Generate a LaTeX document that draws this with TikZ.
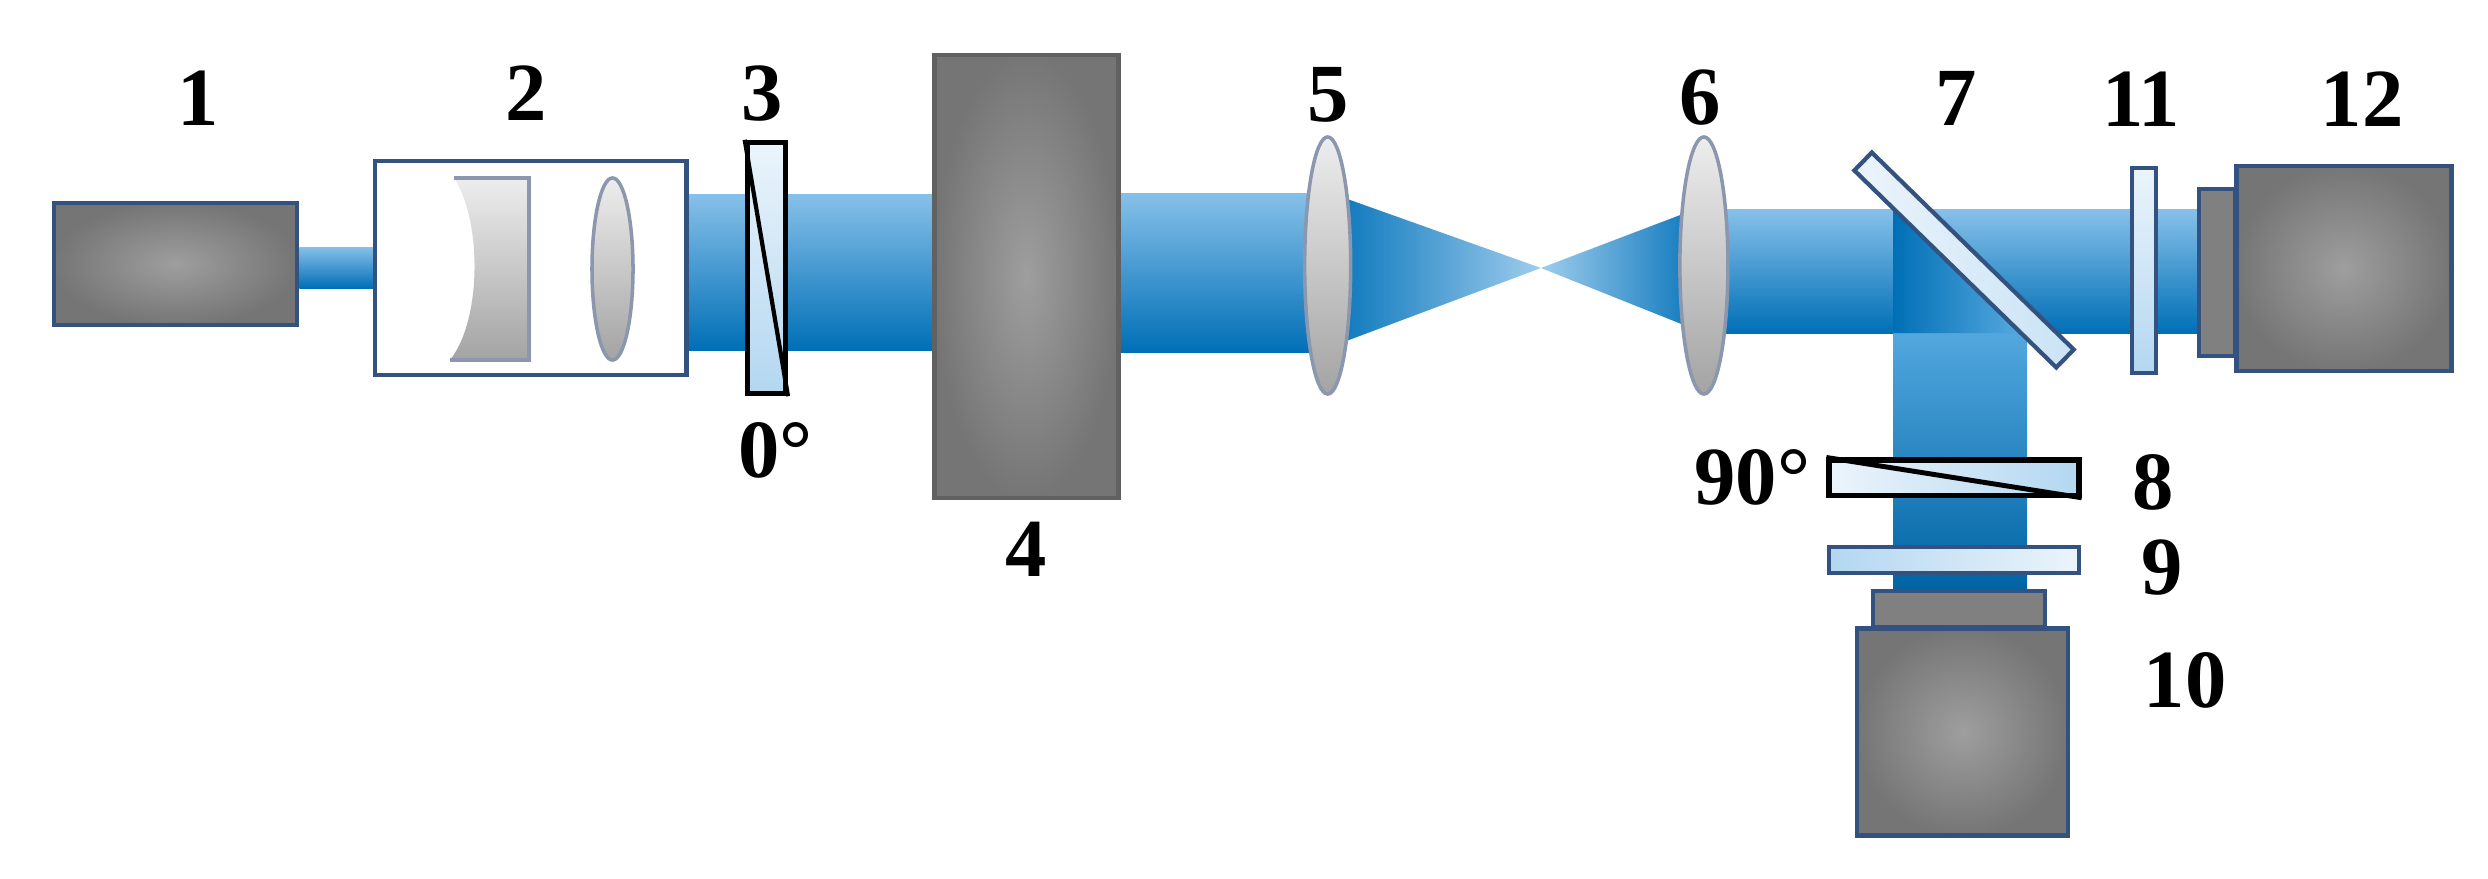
\documentclass[tikz,border=0pt]{standalone}
\usepackage{fontspec}
\setmainfont{Liberation Serif}
\usetikzlibrary{positioning, shapes.geometric, backgrounds}
\definecolor{frameblue}{HTML}{34527F}
\definecolor{lensedge}{HTML}{8A97AE}
\definecolor{beamtop}{HTML}{86C0E9}
\definecolor{beammid}{HTML}{3498D9}
\definecolor{beamlow}{HTML}{006FB6}
\definecolor{pale}{HTML}{EBF4FB}
\definecolor{glass}{HTML}{B3D7F1}
\tikzset{
        camera/.style={rectangle, draw=frameblue, line width=1.3pt, inner sep=0pt, inner color=black!38, outer color=black!54},
        neck/.style={rectangle, draw=frameblue, line width=1.3pt, inner sep=0pt, fill=black!50},
        lens/.style={ellipse, draw=lensedge, line width=1pt, inner sep=0pt, top color=black!7, bottom color=black!36},
        wedge/.style={rectangle, draw=black, line width=1.5pt, inner sep=0pt},
        plate/.style={rectangle, draw=frameblue, line width=1.2pt, inner sep=0pt},
        tag/.style={font=\bfseries\fontsize{23.5}{24}\selectfont, inner sep=0pt},
        beam/.style={top color=beamtop, middle color=beammid, bottom color=beamlow}
}
\begin{document}
\begin{tikzpicture}[x=0.01cm, y=-0.01cm, on grid]
        \useasboundingbox (0,0) rectangle (2488,879);

        \node[camera, minimum width=2.43cm, minimum height=1.22cm] (1) at (175.5,264) {};
        \node[rectangle, draw=frameblue, line width=1.3pt, inner sep=0pt, fill=white, minimum width=3.11cm, minimum height=2.14cm] (2) [below right=0.04cm and 3.55cm of 1] {};
        \node[wedge, top color=pale, bottom color=glass, minimum width=0.38cm, minimum height=2.51cm] (3) [right=2.355cm of 2] {};
        \node[camera, draw=black!62, minimum width=1.84cm, minimum height=4.43cm] (4) [below right=0.085cm and 2.6cm of 3] {};
        \node[lens, minimum width=0.46cm, minimum height=2.57cm] (5) [above right=0.11cm and 3.01cm of 4] {};
        \node[lens, minimum width=0.48cm, minimum height=2.57cm] (6) [right=3.76cm of 5] {};
        \node[plate, rotate=-44.3, left color=pale, right color=glass!70!white, minimum width=2.82cm, minimum height=0.25cm] (7) [above right=0.055cm and 2.6cm of 6] {};
        \node[wedge, left color=pale, right color=glass, minimum width=2.5cm, minimum height=0.35cm] (8) [below left=2.175cm and 0.1cm of 7] {};
        \node[plate, left color=glass, right color=pale, minimum width=2.5cm, minimum height=0.26cm] (9) [below=0.82cm of 8] {};
        \node[neck, minimum width=1.72cm, minimum height=0.36cm] (10a) [below right=0.495cm and 0.05cm of 9] {};
        \node[camera, minimum width=2.11cm, minimum height=2.07cm] (10) [below right=1.225cm and 0.035cm of 10a] {};
        \node[plate, top color=pale, bottom color=glass, minimum width=0.24cm, minimum height=2.05cm] (11) [below right=0.105cm and 1.795cm of 7] {};
        \node[neck, minimum width=0.36cm, minimum height=1.67cm] (12a) [below right=0.02cm and 0.735cm of 11] {};
        \node[camera, minimum width=2.15cm, minimum height=2.05cm] (12) [above right=0.04cm and 1.265cm of 12a] {};
        \coordinate (f) at (1541,268);

        \begin{scope}[on background layer]
                \shade[beam] (1.east |- 0,247) rectangle (2.west |- 0,288);
                \shade[beam] (2.east |- 0,195) rectangle (4.west |- 0,350);
                \shade[beam] (4.east |- 0,194) rectangle (5.center |- 0,352);
                \shade[left color=beamlow!90!beammid, middle color=beammid!90!beamlow, right color=beamtop!80!white] (5.center |- 0,192) -- (f) -- (5.center |- 0,348) -- cycle;
                \shade[right color=beamlow!90!beammid, middle color=beammid!90!beamlow, left color=beamtop!80!white] (f) -- (6.center |- 0,206) -- (6.center |- 0,333) -- cycle;
                \shade[beam] (6.center |- 0,210) rectangle (12a.west |- 0,333);
                \shade[top color=beammid!85!white, bottom color=beamlow!90!black] (1893,333) rectangle (2027,0 |- 10a.north);
                \shade[left color=beamlow, right color=beammid!80!white] (1893,209) -- (2030,340) -- (2010,333) -- (1893,333) -- cycle;
        \end{scope}

        \shade[top color=black!7, bottom color=black!36] (454,178) .. controls (482,220) and (482,320) .. (450,360) -- (529,360) -- (529,178) -- cycle;
        \draw[lensedge, line width=1.2pt] (454,178) -- (529,178) -- (529,360) -- (450,360);
        \node[lens, minimum width=0.41cm, minimum height=1.82cm] (2b) at (612.5,269) {};
        \draw[line width=1.2pt] (3.north west) -- (3.south east);
        \draw[line width=1.4pt] (8.north west) -- (8.south east);

        \node[tag] (t1) [above right=1.66cm and 0.225cm of 1] {1};
        \node[tag] (t2) [above left=1.745cm and 0.045cm of 2] {2};
        \node[tag] (t3) [above left=1.745cm and 0.04cm of 3] {3};
        \node[tag] (t0) [below right=1.82cm and 0.09cm of 3] {0°};
        \node[tag] (t4) [below=2.73cm of 4] {4};
        \node[tag] (t5) [above=1.71cm of 5] {5};
        \node[tag] (t6) [above left=1.68cm and 0.04cm of 6] {6};
        \node[tag] (t7) [above left=1.61cm and 0.08cm of 7] {7};
        \node[tag] (t90) [left=2.015cm of 8] {90°};
        \node[tag] (t8) [below right=0.05cm and 1.985cm of 8] {8};
        \node[tag] (t9) [below right=0.075cm and 2.075cm of 9] {9};
        \node[tag] (t10) [above right=0.515cm and 2.225cm of 10] {10};
        \node[tag] (t11) [above left=1.715cm and 0.025cm of 11] {11};
        \node[tag] (t12) [above right=1.695cm and 0.185cm of 12] {12};
\end{tikzpicture}
\end{document}
